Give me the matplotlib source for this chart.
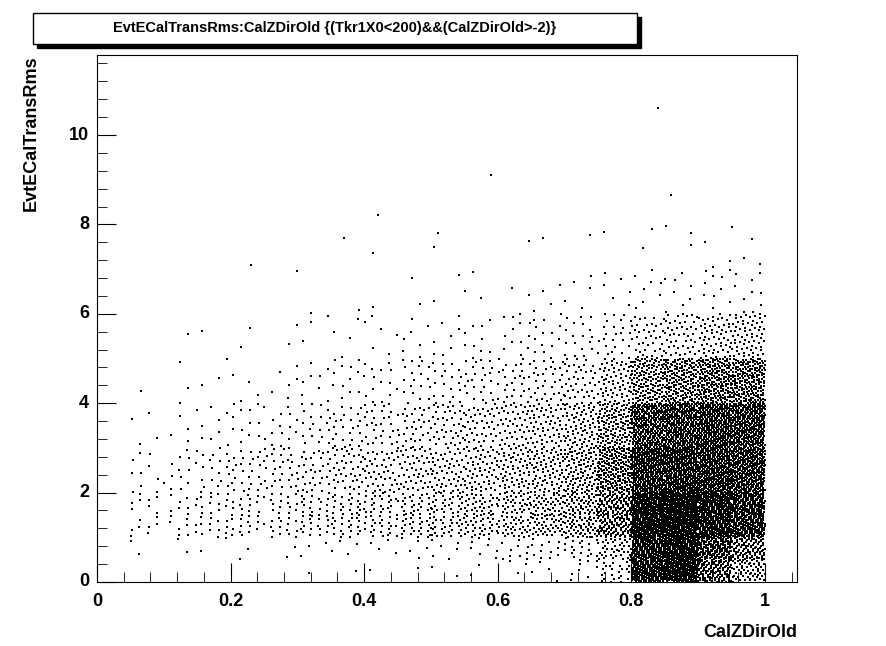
import numpy as np
import matplotlib
matplotlib.use("Agg")
import matplotlib.pyplot as plt
from matplotlib.patches import Rectangle
from matplotlib.ticker import MultipleLocator

# Estimated point counts per cell
x_edges = [0.05,0.10,0.15,0.20,0.25,0.30,0.35,0.40,0.45,0.50,0.55,0.60,0.65,0.70,0.75,0.80,0.85,0.90,0.95,1.00]
y_edges = [0,0.5,1,1.5,2,3,4,5,6,7,8]
counts = [
 [0,2,8,8,10,4,1,0,0,0],
 [0,2,9,9,14,6,2,1,0,0],
 [0,2,12,12,20,8,3,1,0,0],
 [0,2,14,14,25,12,4,2,0,0],
 [0,2,16,16,30,15,6,2,1,0],
 [1,3,18,18,35,20,8,3,1,0],
 [1,4,22,22,40,25,12,4,1,0],
 [1,4,25,25,45,30,15,6,1,1],
 [1,5,28,28,50,35,18,7,2,0],
 [2,6,30,30,55,40,20,8,2,1],
 [2,8,35,35,60,45,25,10,3,0],
 [3,10,40,40,70,50,30,12,3,1],
 [4,12,45,45,80,60,32,14,4,1],
 [8,20,60,60,110,80,40,18,5,1],
 [25,40,100,100,200,140,70,25,6,1],
 [200,200,250,250,380,300,150,40,8,2],
 [250,250,260,260,400,330,180,45,8,2],
 [120,150,220,220,380,350,210,60,10,3],
 [60,100,180,180,350,340,210,65,10,3],
]
outlier_x = [0.84,0.59,0.86,0.42,0.95,0.37,0.51,0.89,0.23]
outlier_y = [10.6,9.1,8.65,8.2,7.95,7.7,7.8,7.8,7.1]

# deterministic low-discrepancy placement inside each cell (R2 sequence)
g = 1.32471795724474602596
a1, a2 = 1/g, 1/(g*g)
xs, ys = [], []
for i in range(len(x_edges)-1):
    for j in range(len(y_edges)-1):
        n = counts[i][j]
        k = np.arange(n) + 1 + 137*i + 53*j
        u = (0.5 + a1*k) % 1
        v = (0.5 + a2*k) % 1
        xs.extend(x_edges[i] + u*(x_edges[i+1]-x_edges[i]))
        ys.extend(y_edges[j] + v*(y_edges[j+1]-y_edges[j]))
xs += outlier_x; ys += outlier_y

plt.rcParams['font.family'] = ['Liberation Sans', 'DejaVu Sans']
fig = plt.figure(figsize=(8.86, 6.46), dpi=100)
ax = fig.add_axes([97/886, 1-582/646, 700/886, 527/646])
ax.scatter(xs, ys, s=0.6, c='black', marker='s', linewidths=0)
ax.set_xlim(0, 1.048)
ax.set_ylim(0, 11.79)
ax.xaxis.set_major_locator(MultipleLocator(0.2))
ax.xaxis.set_minor_locator(MultipleLocator(0.04))
ax.yaxis.set_major_locator(MultipleLocator(2))
ax.yaxis.set_minor_locator(MultipleLocator(0.4))
ax.tick_params(which='both', direction='in', top=False, right=False)
ax.tick_params(which='major', length=14)
ax.tick_params(which='minor', length=7)
ax.set_xticklabels([]); ax.set_yticklabels([])
for t in [0,0.2,0.4,0.6,0.8,1]:
    ax.text(t, -0.25, ('%g' % t), ha='center', va='top', fontsize=13, fontweight='bold')
for t in [0,2,4,6,8,10]:
    ax.text(-0.012, t, str(t), ha='right', va='center', fontsize=13, fontweight='bold')
ax.text(1.048, -0.95, 'CalZDirOld', ha='right', va='top', fontsize=13, fontweight='bold')
ax.text(-0.085, 11.79, 'EvtECalTransRms', ha='right', va='top', rotation=90, fontsize=13, fontweight='bold')

fig.patches.append(Rectangle((37/886, 1-48/646), 604/886, 31/646, transform=fig.transFigure, facecolor='black', edgecolor='black'))
fig.patches.append(Rectangle((33/886, 1-44/646), 604/886, 31/646, transform=fig.transFigure, facecolor='white', edgecolor='black', lw=1))
fig.text(335/886, 1-28/646, 'EvtECalTransRms:CalZDirOld {(Tkr1X0<200)&&(CalZDirOld>-2)}', ha='center', va='center', fontsize=10.5, fontweight='bold')
fig.savefig('out.png', dpi=100)
